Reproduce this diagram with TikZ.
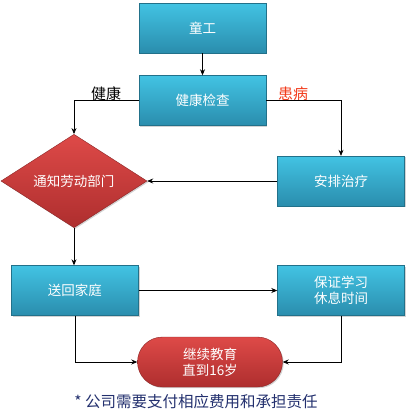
\documentclass[tikz,border=0pt]{standalone}
\usepackage{fontspec}
\setmainfont{Noto Sans CJK SC}
\usetikzlibrary{shapes.geometric,shadows,arrows.meta}
\definecolor{cyTop}{HTML}{42C3E3}
\definecolor{cyBot}{HTML}{2A8DAD}
\definecolor{rdTop}{HTML}{DE4A48}
\definecolor{rdBot}{HTML}{AE2E2E}
\definecolor{sick}{HTML}{F23A1A}
\definecolor{navy}{HTML}{23306E}
\begin{document}
\begin{tikzpicture}[x=1pt,y=-1pt,
  bluebox/.style={rectangle,minimum width=127pt,minimum height=50pt,inner sep=0pt,
    top color=cyTop,bottom color=cyBot,draw=cyBot!80!black,line width=0.4pt,
    text=white,font=\fontsize{13.5}{16}\selectfont,align=center,
    drop shadow={opacity=0.35,shadow xshift=1.2pt,shadow yshift=-1.2pt}},
  reddia/.style={diamond,minimum width=146pt,minimum height=84pt,inner sep=0pt,
    top color=rdTop,bottom color=rdBot,draw=rdBot!80!black,line width=0.4pt,
    text=white,font=\fontsize{13.5}{16}\selectfont,
    drop shadow={opacity=0.35,shadow xshift=1.2pt,shadow yshift=-1.2pt}},
  redpill/.style={rectangle,rounded corners=25pt,minimum width=145pt,minimum height=50pt,inner sep=0pt,
    top color=rdTop,bottom color=rdBot,draw=rdBot!80!black,line width=0.4pt,
    text=white,font=\fontsize{13.5}{16}\selectfont,align=center,
    drop shadow={opacity=0.35,shadow xshift=1.2pt,shadow yshift=-1.2pt}},
  conn/.style={draw=black,line width=0.7pt,-{Stealth[length=6pt,width=5pt]}},
  lbl/.style={font=\fontsize{15}{16}\selectfont,inner sep=0pt}
]
\useasboundingbox (0,0) rectangle (406,413);
\node[bluebox] (tg) at (202.5,28) {童工};
\node[bluebox] (jk) at (202.5,100.5) {健康检查};
\node[bluebox] (ap) at (341,181) {安排治疗};
\node[reddia] (dm) at (74,181) {通知劳动部门};
\node[bluebox] (sh) at (75,290.5) {送回家庭};
\node[bluebox] (bz) at (341,290.5) {保证学习\\休息时间};
\node[redpill] (jx) at (210,362) {继续教育\\直到16岁};
\node[lbl,text=black] (lh) at (106,94) {健康};
\node[lbl,text=sick] (ls) at (293,94) {患病};
\node[font=\fontsize{15.5}{16}\selectfont,text=navy,inner sep=0pt] (fn) at (196,402) {* 公司需要支付相应费用和承担责任};
\draw[conn] (tg) -- (jk);
\draw[conn] (jk.west) -| (dm.north);
\draw[conn] (jk.east) -| (ap.north);
\draw[conn] (ap.west) -- (dm.east);
\draw[conn] (dm.south) -- (dm.south |- sh.north);
\draw[conn] (sh.east) -- (bz.west);
\draw[conn] (sh.south) |- (jx.west);
\draw[conn] (bz.south) |- (jx.east);
\end{tikzpicture}
\end{document}
